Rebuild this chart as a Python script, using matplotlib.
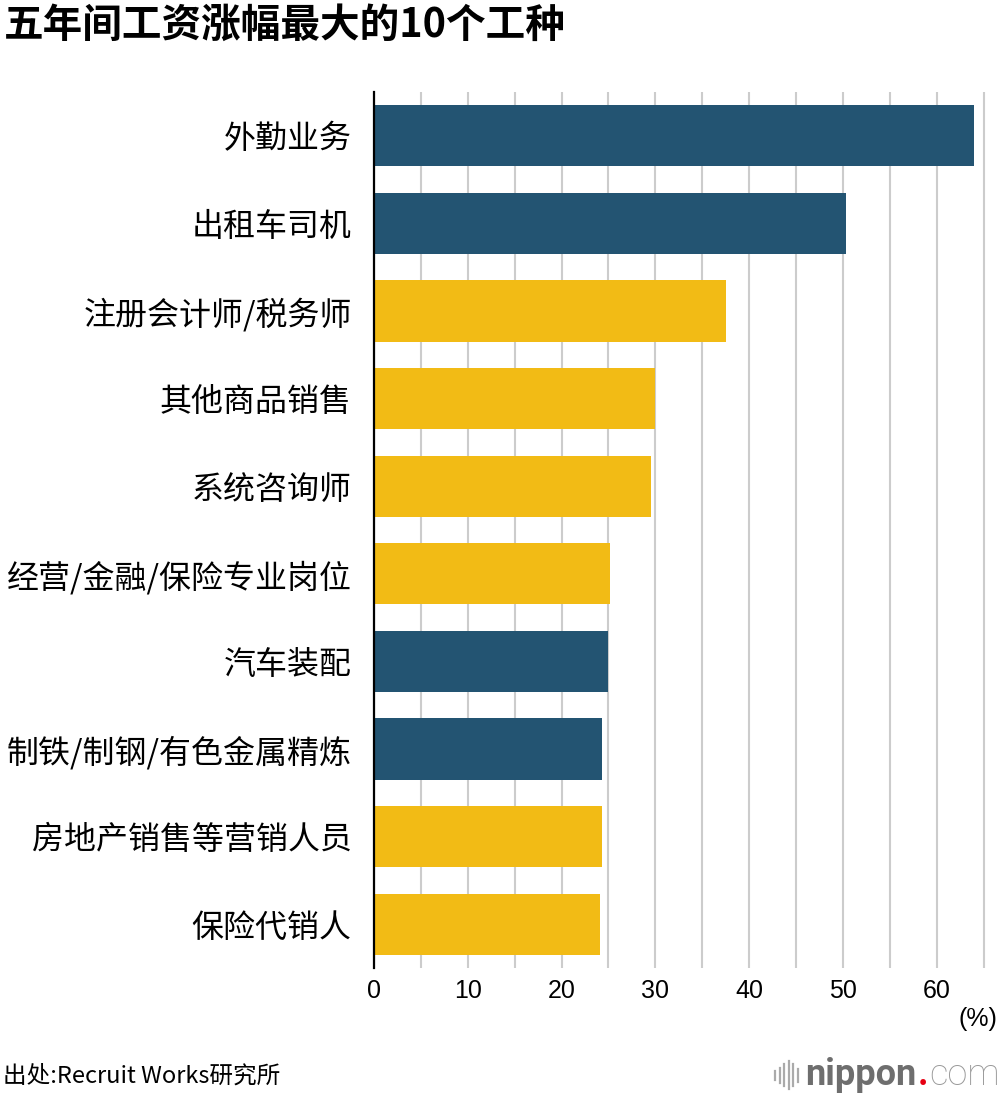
import numpy as np
import matplotlib
matplotlib.use("Agg")
import matplotlib.pyplot as plt
from matplotlib.lines import Line2D

plt.rcParams['font.family'] = ['Noto Sans CJK SC', 'DejaVu Sans']

# data (top to bottom)
jobs = ["外勤业务", "出租车司机", "注册会计师/税务师", "其他商品销售", "系统咨询师",
        "经营/金融/保险专业岗位", "汽车装配", "制铁/制钢/有色金属精炼",
        "房地产销售等营销人员", "保险代销人"]
growth = [64.0, 50.3, 37.5, 30.0, 29.5, 25.2, 25.0, 24.3, 24.3, 24.1]
group = ["blue", "blue", "yellow", "yellow", "yellow", "yellow", "blue", "blue", "yellow", "yellow"]
tick_vals = [0, 10, 20, 30, 40, 50, 60]

palette = {"blue": "#235472", "yellow": "#F2BB15"}

fig = plt.figure(figsize=(10, 10.96), dpi=100)
ax = fig.add_axes([0.374, 0.1168, 0.6125, 0.7993])

y = np.arange(len(jobs))
ax.barh(y, growth, height=0.7, color=[palette[g] for g in group], zorder=3)
ax.set_ylim(len(jobs) - 0.5, -0.5)
ax.set_xlim(0, 65.3)

ax.set_yticks(y)
ax.set_yticklabels(jobs, fontsize=23, fontweight='medium')
ax.set_xticks(tick_vals)
ax.set_xticklabels([str(v) for v in tick_vals], fontsize=18, family=['Liberation Sans', 'DejaVu Sans'])
ax.set_xticks(np.arange(5, 70, 10), minor=True)
ax.tick_params(axis='both', which='both', length=0)
ax.tick_params(axis='y', pad=16)
ax.tick_params(axis='x', pad=8)

ax.grid(axis='x', which='both', color='#cccccc', linewidth=1.5, zorder=0)
ax.set_axisbelow(True)
for s in ['top', 'right', 'bottom']:
    ax.spines[s].set_visible(False)
ax.spines['left'].set_color('black')
ax.spines['left'].set_linewidth(1.6)
ax.spines['left'].set_zorder(4)

ax.text(1.018, -0.045, "(%)", transform=ax.transAxes, ha='right', va='top',
        fontsize=18, family=['Liberation Sans', 'DejaVu Sans'])

fig.text(0.004, 0.977, "五年间工资涨幅最大的10个工种", fontsize=28.5, fontweight='bold',
         ha='left', va='center')
fig.text(0.003, 0.018, "出处:Recruit Works研究所", fontsize=17, ha='left', va='center')

# nippon.com logo
for i, h in enumerate([0.008, 0.014, 0.02, 0.026, 0.02, 0.012]):
    xx = 0.775 + i * 0.0045
    fig.add_artist(Line2D([xx, xx], [0.019 - h / 2, 0.019 + h / 2], color='#aaaaaa', linewidth=1.6))
t1 = fig.text(0.805, 0.019, "nippon", fontsize=26, fontweight='bold', color='#6e6e6e',
              ha='left', va='center', family=['Roboto', 'DejaVu Sans'])
fig.canvas.draw()
bb = t1.get_window_extent().transformed(fig.transFigure.inverted())
t2 = fig.text(bb.x1 + 0.001, 0.019, ".", fontsize=26, fontweight='bold', color='#e60012',
              ha='left', va='center', family=['Roboto', 'DejaVu Sans'])
bb2 = t2.get_window_extent().transformed(fig.transFigure.inverted())
fig.text(bb2.x1 + 0.001, 0.019, "com", fontsize=26, fontweight='light', color='#999999',
         ha='left', va='center', family=['Roboto', 'DejaVu Sans'])

fig.savefig("out.png", dpi=100)
